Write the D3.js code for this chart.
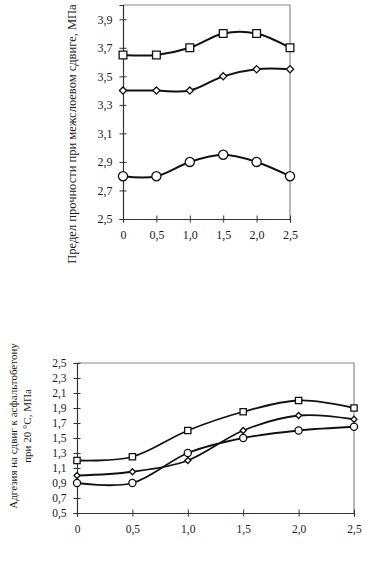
<!DOCTYPE html>
<html>
<head>
<meta charset="utf-8">
<script src="https://cdn.jsdelivr.net/npm/d3@7"></script>
<style>
  body { margin: 0; background: #fff; }
  svg { display: block; }
  text { font-family: "Liberation Serif", "Times New Roman", serif; fill: #1a1a1a; }
</style>
</head>
<body>
<svg id="chart" width="366" height="563"></svg>
<script>
// данные
const xValues = [0, 0.5, 1.0, 1.5, 2.0, 2.5];
const xTickLabels = ['0', '0,5', '1,0', '1,5', '2,0', '2,5'];

// верхний график — предел прочности при межслоевом сдвиге
const topSquares = [3.65, 3.65, 3.7, 3.8, 3.8, 3.7];
const topDiamonds = [3.4, 3.4, 3.4, 3.5, 3.55, 3.55];
const topCircles = [2.8, 2.8, 2.9, 2.95, 2.9, 2.8];
const topYTicks = [2.5, 2.7, 2.9, 3.1, 3.3, 3.5, 3.7, 3.9];

// нижний график — адгезия на сдвиг
const botSquares = [1.2, 1.25, 1.6, 1.85, 2.0, 1.9];
const botDiamonds = [1.0, 1.05, 1.2, 1.6, 1.8, 1.75];
const botCircles = [0.9, 0.9, 1.3, 1.5, 1.6, 1.65];
const botYTicks = [0.5, 0.7, 0.9, 1.1, 1.3, 1.5, 1.7, 1.9, 2.1, 2.3, 2.5];

const svg = d3.select('#chart');
const fmt = d => d.toFixed(1).replace('.', ',');

/**
 * Рисует один график
 */
function drawPanel(cfg) {
  const { left, right, top, bottom, yDomain, yTicks, series, fontSize, lineWidth } = cfg;
  const g = svg.append('g');

  const x = d3.scaleLinear().domain([0, 2.5]).range([left, right]);
  const y = d3.scaleLinear().domain(yDomain).range([bottom, top]);

  // рамка сверху и справа (серая)
  g.append('path')
    .attr('d', `M${left},${top}H${right}V${bottom}`)
    .attr('fill', 'none')
    .attr('stroke', '#8a8a8a')
    .attr('stroke-width', 1.2);

  // ось Y
  const yAxis = g.append('g')
    .attr('transform', `translate(${left},0)`)
    .call(d3.axisLeft(y).tickValues(yTicks).tickSize(3.5).tickPadding(7).tickFormat(fmt));
  yAxis.select('.domain').attr('stroke', '#333').attr('stroke-width', 1.2);
  yAxis.selectAll('.tick line').attr('x2', -3.5).attr('x1', 3.5).attr('stroke', '#333');
  yAxis.selectAll('text')
    .style('font-family', '"Liberation Serif", serif')
    .style('font-size', fontSize + 'px')
    .attr('fill', '#1a1a1a');

  // ось X
  const xAxis = g.append('g')
    .attr('transform', `translate(0,${bottom})`)
    .call(d3.axisBottom(x).tickValues(xValues).tickSize(3.5).tickPadding(cfg.xPad)
      .tickFormat((d, i) => xTickLabels[i]));
  xAxis.select('.domain').attr('stroke', '#333').attr('stroke-width', 1.2);
  xAxis.selectAll('.tick line').attr('y1', -3.5).attr('y2', 3.5).attr('stroke', '#333');
  xAxis.selectAll('text')
    .style('font-family', '"Liberation Serif", serif')
    .style('font-size', fontSize + 'px')
    .attr('fill', '#1a1a1a');

  const line = d3.line()
    .x((d, i) => x(xValues[i]))
    .y(d => y(d))
    .curve(d3.curveCardinal.tension(0));

  series.forEach(s => {
    g.append('path')
      .datum(s.values)
      .attr('d', line)
      .attr('fill', 'none')
      .attr('stroke', '#111')
      .attr('stroke-width', lineWidth);
  });

  // маркеры (ромб = повернутый квадрат)
  series.forEach(s => {
    const type = s.kind === 'circle' ? d3.symbolCircle : d3.symbolSquare;
    const sym = d3.symbol().type(type).size(s.size);
    g.selectAll(null)
      .data(s.values)
      .enter()
      .append('path')
      .attr('d', sym)
      .attr('transform', (d, i) => `translate(${x(xValues[i])},${y(d)})` + (s.kind === 'diamond' ? ' rotate(45)' : ''))
      .attr('fill', '#fff')
      .attr('stroke', '#111')
      .attr('stroke-width', 1.3);
  });

  return { x, y };
}

drawPanel({
  left: 123, right: 290, top: 5, bottom: 219,
  yDomain: [2.5, 4.0], yTicks: topYTicks,
  fontSize: 12, xPad: 8, lineWidth: 2,
  series: [
    { values: topSquares, kind: 'square', size: 60 },
    { values: topDiamonds, kind: 'diamond', size: 26 },
    { values: topCircles, kind: 'circle', size: 66 }
  ]
});

drawPanel({
  left: 77, right: 354, top: 363, bottom: 513,
  yDomain: [0.5, 2.5], yTicks: botYTicks,
  fontSize: 11.5, xPad: 8, lineWidth: 1.8,
  series: [
    { values: botSquares, kind: 'square', size: 40 },
    { values: botDiamonds, kind: 'diamond', size: 18 },
    { values: botCircles, kind: 'circle', size: 40 }
  ]
});

// подписи осей
svg.append('text')
  .attr('transform', 'translate(76,134) rotate(-90)')
  .attr('text-anchor', 'middle')
  .style('font-size', '12.5px')
  .text('Предел прочности при межслоевом сдвиге, МПа');

const botTitle = svg.append('text')
  .attr('transform', 'translate(17,426) rotate(-90)')
  .attr('text-anchor', 'middle')
  .style('font-size', '11px');
botTitle.append('tspan').attr('x', 0).attr('dy', 0).text('Адгезия на сдвиг к асфальтобетону');
botTitle.append('tspan').attr('x', 0).attr('dy', 14).text('при 20 °С, МПа');
</script>
</body>
</html>
